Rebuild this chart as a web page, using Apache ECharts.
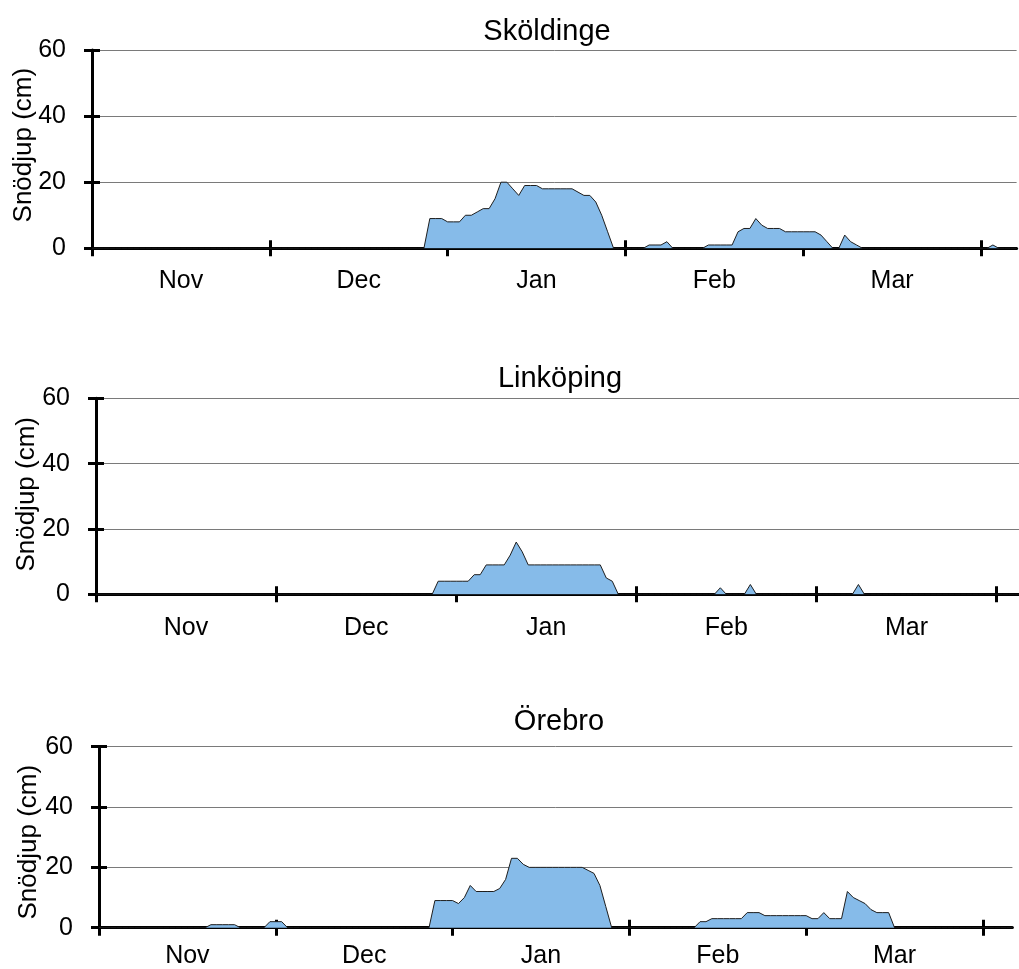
<!DOCTYPE html>
<html>
<head>
<meta charset="utf-8">
<script src="https://cdn.jsdelivr.net/npm/echarts@6/dist/echarts.min.js"></script>
<style>
html,body{margin:0;padding:0;background:#fff;}
#chart{width:1019px;height:969px;}
</style>
</head>
<body>
<div id="chart"></div>
<script>
// ---- data (snow depth, cm, one value per day starting 1 Nov) ----
const months = ['Nov', 'Dec', 'Jan', 'Feb', 'Mar'];
const stations = ['Sköldinge', 'Linköping', 'Örebro'];
const yTicks = [0, 20, 40, 60];
const yAxisTitle = 'Snödjup (cm)';

const skoldinge = [
  0,0,0,0,0,0,0,0,0,0,
  0,0,0,0,0,0,0,0,0,0,
  0,0,0,0,0,0,0,0,0,0,
  0,0,0,0,0,0,0,0,0,0,
  0,0,0,0,0,0,0,0,0,0,
  0,0,0,0,0,0,0,9,9,9,
  8,8,8,10,10,11,12,12,15,20,
  20,18,16,19,19,19,18,18,18,18,
  18,18,17,16,16,14,10,5,0,0,
  0,0,0,0,1,1,1,2,0,0,
  0,0,0,0,1,1,1,1,1,5,
  6,6,9,7,6,6,6,5,5,5,
  5,5,5,4,2,0,0,4,2,1,
  0,0,0,0,0,0,0,0,0,0,
  0,0,0,0,0,0,0,0,0,0,
  0,0,1,0,0,0,0
];
const linkoping = [
  0,0,0,0,0,0,0,0,0,0,
  0,0,0,0,0,0,0,0,0,0,
  0,0,0,0,0,0,0,0,0,0,
  0,0,0,0,0,0,0,0,0,0,
  0,0,0,0,0,0,0,0,0,0,
  0,0,0,0,0,0,0,4,4,4,
  4,4,4,6,6,9,9,9,9,12,
  16,13,9,9,9,9,9,9,9,9,
  9,9,9,9,9,5,4,0,0,0,
  0,0,0,0,0,0,0,0,0,0,
  0,0,0,0,2,0,0,0,0,3,
  0,0,0,0,0,0,0,0,0,0,
  0,0,0,0,0,0,0,3,0,0,
  0,0,0,0,0,0,0,0,0,0,
  0,0,0,0,0,0,0,0,0,0,
  0,0,0,0,0
];
const orebro = [
  0,0,0,0,0,0,0,0,0,0,
  0,0,0,0,0,0,0,0,0,1,
  1,1,1,1,0,0,0,0,0,2,
  2,2,0,0,0,0,0,0,0,0,
  0,0,0,0,0,0,0,0,0,0,
  0,0,0,0,0,0,0,9,9,9,
  9,8,10,14,12,12,12,12,13,16,
  23,23,21,20,20,20,20,20,20,20,
  20,20,20,19,18,14,7,0,0,0,
  0,0,0,0,0,0,0,0,0,0,
  0,0,2,2,3,3,3,3,3,3,
  5,5,5,4,4,4,4,4,4,4,
  4,3,3,5,3,3,3,12,10,9,
  8,6,5,5,5,0,0,0,0,0,
  0,0,0,0,0,0,0,0,0,0,
  0,0,0,0,0,0
];
const seriesData = [skoldinge, linkoping, orebro];

// ---- layout / style ----
const FONT = '"Liberation Sans", Arial, Helvetica, sans-serif';
const panels = [
  {left: 92, top: 50,    width: 924.6, height: 198.3, nameGap: 55, namePad: [0, 0, 0, 8],  labelMargin: 20, titleX: 547, titleY: 32},
  {left: 96, top: 398.3, width: 924.5, height: 196,   nameGap: 56, namePad: [0, 0, 0, 4],  labelMargin: 21, titleX: 560, titleY: 379},
  {left: 99, top: 746.7, width: 913.4, height: 181,   nameGap: 57, namePad: [0, 10, 0, 0], labelMargin: 16, titleX: 559, titleY: 722}
];
const TICK_EVERY = 30;
const AXIS_W = 3;
const TICK_LEN = 8;

const grid = [], xAxis = [], yAxis = [], series = [], graphic = [];
panels.forEach((p, k) => {
  const cats = seriesData[k].map((_, i) => String(i));
  grid.push({left: p.left, top: p.top, width: p.width, height: p.height,
             containLabel: false, outerBoundsMode: 'none'});
  const tickInterval = (i) => i % TICK_EVERY === 0;
  // main x axis (outward ticks + month labels)
  xAxis.push({
    type: 'category', gridIndex: k, data: cats, boundaryGap: false, position: 'bottom',
    axisLine: {show: true, onZero: false, lineStyle: {color: '#000', width: AXIS_W}},
    axisTick: {show: true, inside: false, length: TICK_LEN, interval: tickInterval,
               lineStyle: {color: '#000', width: AXIS_W}},
    axisLabel: {show: true, interval: (i) => i % TICK_EVERY === TICK_EVERY / 2,
                formatter: (v, i) => { const m = (Number(v) - TICK_EVERY / 2) / TICK_EVERY; return months[m] || ''; },
                color: '#000', fontSize: 25, fontFamily: FONT, margin: p.labelMargin},
    splitLine: {show: false}
  });
  // duplicate x axis shifted into the plot: gives the upper half of the crossing ticks
  xAxis.push({
    type: 'category', gridIndex: k, data: cats, boundaryGap: false, position: 'bottom', offset: -TICK_LEN,
    axisLine: {show: false, onZero: false},
    axisTick: {show: true, inside: false, length: TICK_LEN, interval: tickInterval,
               lineStyle: {color: '#000', width: AXIS_W}},
    axisLabel: {show: false}, splitLine: {show: false}
  });
  yAxis.push({
    type: 'value', gridIndex: k, position: 'left',
    min: yTicks[0], max: yTicks[yTicks.length - 1], interval: yTicks[1] - yTicks[0],
    name: yAxisTitle, nameLocation: 'middle', nameGap: p.nameGap, nameMoveOverlap: false,
    nameTextStyle: {color: '#000', fontSize: 26, fontFamily: FONT, padding: p.namePad},
    axisLine: {show: true, onZero: false, lineStyle: {color: '#000', width: AXIS_W}},
    axisTick: {show: true, inside: false, length: TICK_LEN, lineStyle: {color: '#000', width: AXIS_W}},
    axisLabel: {color: '#000', fontSize: 25, fontFamily: FONT, margin: 26},
    splitLine: {show: true, lineStyle: {color: '#7a7a7a', width: 1}}
  });
  yAxis.push({
    type: 'value', gridIndex: k, position: 'left', offset: -TICK_LEN,
    min: yTicks[0], max: yTicks[yTicks.length - 1], interval: yTicks[1] - yTicks[0],
    axisLine: {show: false, onZero: false},
    axisTick: {show: true, inside: false, length: TICK_LEN, lineStyle: {color: '#000', width: AXIS_W}},
    axisLabel: {show: false}, splitLine: {show: false}
  });
  series.push({
    type: 'line', xAxisIndex: 2 * k, yAxisIndex: 2 * k, data: seriesData[k],
    symbol: 'none', smooth: false, silent: true, animation: false,
    lineStyle: {color: '#1e1e1e', width: 1},
    areaStyle: {color: '#86BBE9', opacity: 1},
    z: 1
  });
  graphic.push({
    type: 'text', x: p.titleX, y: p.titleY, silent: true,
    style: {text: stations[k], fill: '#000', font: '29px ' + FONT, align: 'center', verticalAlign: 'middle'}
  });
});

const chart = echarts.init(document.getElementById('chart'), null, {renderer: 'canvas'});
chart.setOption({
  animation: false,
  backgroundColor: '#fff',
  grid, xAxis, yAxis, series, graphic
});
</script>
</body>
</html>
